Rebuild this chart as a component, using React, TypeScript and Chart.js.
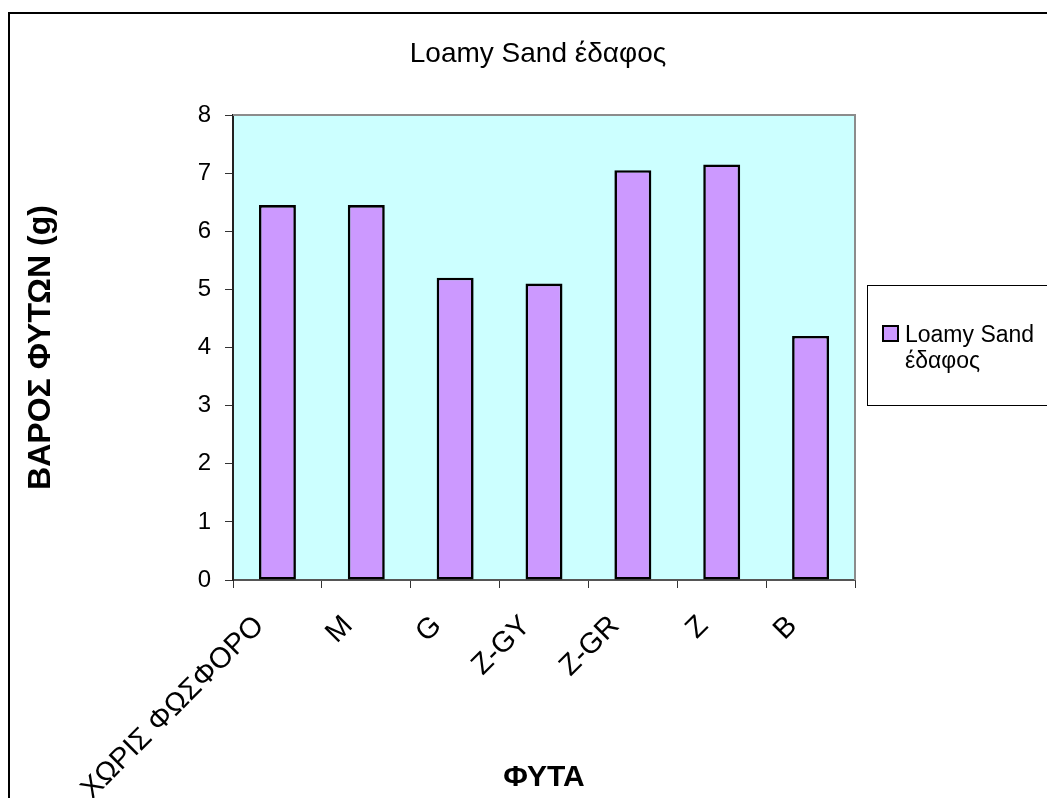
import React, { useEffect, useRef } from 'react';
import { Chart, registerables } from 'chart.js';

Chart.register(...registerables);

const categories = ['ΧΩΡΙΣ ΦΩΣΦΟΡΟ', 'M', 'G', 'Z-GY', 'Z-GR', 'Z', 'B'];
const values = [6.45, 6.45, 5.2, 5.1, 7.05, 7.15, 4.2];
const seriesLabel = 'Loamy Sand έδαφος';
const legendLines = ['Loamy Sand', 'έδαφος'];
const chartTitle = 'Loamy Sand έδαφος';
const yAxisTitle = 'ΒΑΡΟΣ ΦΥΤΩΝ (g)';
const xAxisTitle = 'ΦΥΤΑ';
const yMin = 0;
const yMax = 8;
const yStep = 1;

const FONT = 'Arial, "Liberation Sans", sans-serif';
const W = 1047;
const H = 790;
const BAR_COLOR = '#CC99FF';
const PLOT_BG = '#CCFFFF';

export default function App() {
  const ref = useRef<HTMLCanvasElement>(null);

  useEffect(() => {
    document.documentElement.style.overflow = 'hidden';
    document.body.style.overflow = 'hidden';
    const canvas = ref.current;
    if (!canvas) return;

    const decor = {
      id: 'decor',
      beforeDraw(chart: any) {
        const { ctx, chartArea: a } = chart;
        ctx.save();
        ctx.fillStyle = PLOT_BG;
        ctx.fillRect(a.left, a.top, a.right - a.left, a.bottom - a.top);
        ctx.restore();
      },
      afterDraw(chart: any) {
        const { ctx, chartArea: a } = chart;
        ctx.save();
        // plot area border (top & right)
        ctx.strokeStyle = '#8c8c8c';
        ctx.lineWidth = 2;
        ctx.beginPath();
        ctx.moveTo(a.left, a.top);
        ctx.lineTo(a.right, a.top);
        ctx.lineTo(a.right, a.bottom);
        ctx.stroke();

        // outer frame
        ctx.strokeStyle = '#000';
        ctx.lineWidth = 2;
        ctx.beginPath();
        ctx.moveTo(1, H + 20);
        ctx.lineTo(1, 5);
        ctx.lineTo(W + 20, 5);
        ctx.stroke();

        // title
        ctx.fillStyle = '#000';
        ctx.font = `28px ${FONT}`;
        ctx.textAlign = 'center';
        ctx.textBaseline = 'alphabetic';
        ctx.fillText(chartTitle, 530, 54);

        // legend
        ctx.strokeStyle = '#000';
        ctx.lineWidth = 1;
        ctx.strokeRect(859.5, 277.5, 300, 120);
        ctx.fillStyle = BAR_COLOR;
        ctx.fillRect(874, 317, 17, 17);
        ctx.lineWidth = 2;
        ctx.strokeRect(875, 318, 15, 15);
        ctx.fillStyle = '#000';
        ctx.font = `23px ${FONT}`;
        ctx.textAlign = 'left';
        ctx.fillText(legendLines[0], 897, 334);
        ctx.fillText(legendLines[1], 897, 360);
        ctx.restore();
      },
    };

    const chart = new Chart(canvas, {
      type: 'bar',
      data: {
        labels: categories,
        datasets: [
          {
            label: seriesLabel,
            data: values,
            backgroundColor: BAR_COLOR,
            borderColor: '#000',
            borderWidth: 2.6,
            borderSkipped: false,
            barPercentage: 0.416,
            categoryPercentage: 1,
          },
        ],
      },
      options: {
        responsive: false,
        animation: false,
        devicePixelRatio: 1,
        layout: { padding: { top: 107, right: 200, left: 0, bottom: 0 } },
        plugins: {
          legend: { display: false },
          title: { display: false },
          tooltip: { enabled: false },
        },
        scales: {
          x: {
            afterFit: (s: any) => {
              s.height = 218;
            },
            grid: {
              display: true,
              offset: true,
              drawOnChartArea: false,
              drawTicks: true,
              tickLength: 8,
              color: '#333',
              lineWidth: 1,
            },
            border: { display: true, color: '#555', width: 2 },
            ticks: {
              autoSkip: false,
              minRotation: 45,
              maxRotation: 45,
              padding: 21,
              labelOffset: -18,
              color: '#000',
              font: { family: FONT, size: 29 },
            },
            title: {
              display: true,
              text: xAxisTitle,
              color: '#000',
              font: { family: FONT, size: 30, weight: 'bold' },
              padding: { top: 0, bottom: 2 },
            },
          },
          y: {
            min: yMin,
            max: yMax,
            afterFit: (s: any) => {
              s.width = 225;
            },
            grid: {
              display: true,
              drawOnChartArea: false,
              drawTicks: true,
              tickLength: 8,
              color: '#333',
              lineWidth: 1,
            },
            border: { display: true, color: '#222', width: 2 },
            ticks: {
              stepSize: yStep,
              padding: 14,
              color: '#000',
              font: { family: FONT, size: 24 },
            },
            title: {
              display: true,
              text: yAxisTitle,
              color: '#000',
              font: { family: FONT, size: 32, weight: 'bold' },
              padding: { top: 14, bottom: 0 },
            },
          },
        },
      },
      plugins: [decor],
    });

    return () => chart.destroy();
  }, []);

  return <canvas ref={ref} width={W} height={H} style={{ display: 'block', width: W, height: H }} />;
}
